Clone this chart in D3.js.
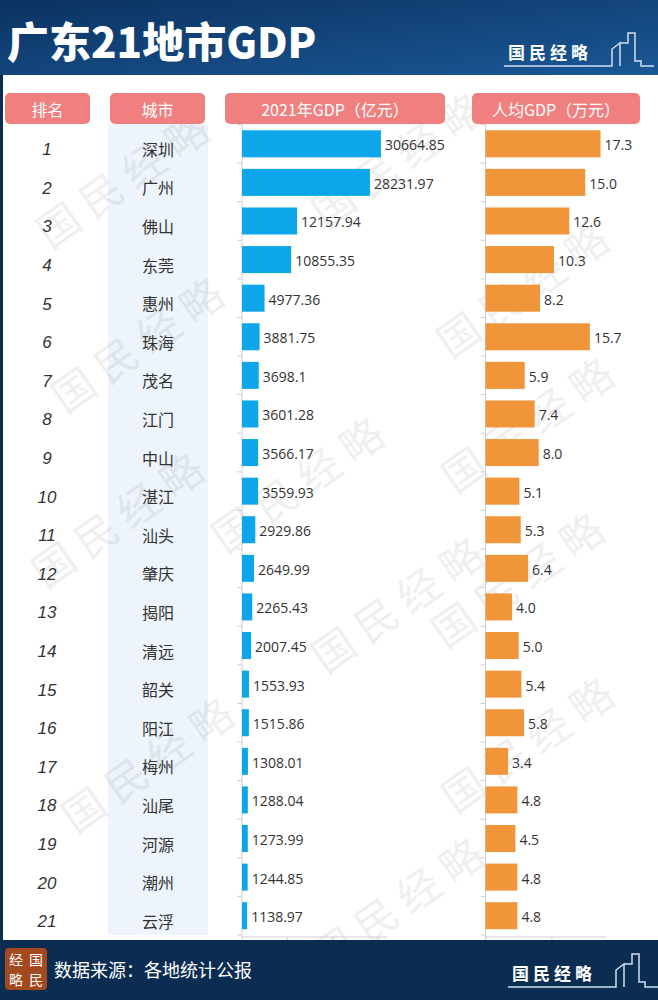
<!DOCTYPE html>
<html><head><meta charset="utf-8">
<script src="https://cdn.jsdelivr.net/npm/d3@7"></script>
<style>body{margin:0;background:#fff}svg{display:block}</style>
</head><body>
<svg id="c" width="658" height="1000"></svg>
<script>
const ranks = d3.range(1, 22);
const cities = ["深圳","广州","佛山","东莞","惠州","珠海","茂名","江门","中山","湛江","汕头","肇庆","揭阳","清远","韶关","阳江","梅州","汕尾","河源","潮州","云浮"];
const gdpLabels = ["30664.85","28231.97","12157.94","10855.35","4977.36","3881.75","3698.1","3601.28","3566.17","3559.93","2929.86","2649.99","2265.43","2007.45","1553.93","1515.86","1308.01","1288.04","1273.99","1244.85","1138.97"];
const gdp = gdpLabels.map(Number);
const perCapita = [17.3,15.0,12.6,10.3,8.2,15.7,5.9,7.4,8.0,5.1,5.3,6.4,4.0,5.0,5.4,5.8,3.4,4.8,4.5,4.8,4.8];
const headers = ["排名","城市","2021年GDP（亿元）","人均GDP（万元）"];
const gdpTicks = [0,10000,20000,30000];
const pcTicks = [0,10];

const svg = d3.select("#c");
const defs = svg.append("defs");
const g1 = defs.append("linearGradient").attr("id","hg").attr("x1","0").attr("y1","0").attr("x2","1").attr("y2","1");
g1.append("stop").attr("offset","0").attr("stop-color","#0b3261");
g1.append("stop").attr("offset","1").attr("stop-color","#1a5896");

// header
svg.append("rect").attr("x",0).attr("y",0).attr("width",658).attr("height",75).attr("fill","url(#hg)");
svg.append("text").attr("x",7).attr("y",58).text("广东21地市GDP")
  .attr("fill","#fff").attr("font-family","'Noto Sans CJK SC'").attr("font-weight","900").attr("font-size",42);

function logo(x, y) {
  const g = svg.append("g");
  g.append("text").attr("x",x).attr("y",y).text("国民经略").attr("fill","#fff")
    .attr("font-family","'Noto Sans CJK SC'").attr("font-weight","bold").attr("font-size",17).attr("letter-spacing",4);
  g.append("path").attr("d",`M${x-4},${y+7} H${x+104} V${y-10} L${x+112},${y-16} V${y+7} M${x+112},${y-16} H${x+120} V${y-26} H${x+127} V${y+2} H${x+133} V${y+7} H${x+146}`)
    .attr("fill","none").attr("stroke","#cfe0f0").attr("stroke-width",1.5);
}
logo(508, 59);

// body border
svg.append("rect").attr("x",0).attr("y",75).attr("width",3).attr("height",865).attr("fill","#0c2d52");

// layout scales
const y = d3.scaleBand().domain(cities).range([124.5, 935]).paddingInner(0.3).paddingOuter(0.15);
const xg = d3.scaleLinear().domain([0, 32000]).range([242, 387]);
const xp = d3.scaleLinear().domain([0, 18.2]).range([485.5, 606.5]);
const step = y.step();
const cy = c => y(c) + y.bandwidth()/2;

// city column background
svg.append("rect").attr("x",108).attr("y",124).attr("width",100).attr("height",811).attr("fill","#edf4fb");

// watermarks
const wm = [[125,175],[400,155],[525,285],[140,340],[120,515],[400,600],[530,420],[150,760],[530,740],[400,900],[300,480],[520,575]];
svg.append("g").selectAll("text").data(wm).join("text")
  .attr("transform",d=>`translate(${d[0]},${d[1]}) rotate(-35)`)
  .attr("text-anchor","middle").attr("dominant-baseline","central")
  .attr("font-family","'Noto Sans CJK SC'").attr("font-size",42).attr("letter-spacing",10)
  .attr("fill","#000").attr("opacity",0.06).text("国民经略");

// header boxes
const hb = [[5,85],[110,95],[225,220],[472,168]];
const hg = svg.append("g").selectAll("g").data(headers).join("g");
hg.append("rect").attr("x",(d,i)=>hb[i][0]).attr("y",93).attr("width",(d,i)=>hb[i][1]).attr("height",31).attr("rx",5).attr("fill","#f07f7f");
hg.append("text").attr("x",(d,i)=>hb[i][0]+hb[i][1]/2).attr("y",109).attr("text-anchor","middle").attr("dominant-baseline","central")
  .attr("fill","#fff").attr("font-family","'Noto Sans CJK SC'").attr("font-size",16).text(d=>d);

// rank & city
svg.append("g").selectAll("text").data(ranks).join("text")
  .attr("x",47).attr("y",(d,i)=>cy(cities[i])+6).attr("text-anchor","middle").attr("dominant-baseline","central")
  .attr("font-family","'Liberation Sans'").attr("font-style","italic").attr("font-size",17).attr("fill","#333").text(d=>d);
svg.append("g").selectAll("text").data(cities).join("text")
  .attr("x",158).attr("y",d=>cy(d)+5).attr("text-anchor","middle").attr("dominant-baseline","central")
  .attr("font-family","'Noto Sans CJK SC'").attr("font-size",16).attr("fill","#333").text(d=>d);

// axes
function axes(x, ticks) {
  const g = svg.append("g");
  g.append("line").attr("x1",x.range()[0]).attr("x2",x.range()[0]).attr("y1",124).attr("y2",937).attr("stroke","#d0d0d0");
  g.selectAll(".yt").data(d3.range(0,22)).join("line").attr("class","yt")
    .attr("x1",x.range()[0]-5).attr("x2",x.range()[0]).attr("y1",i=>124.5+i*step).attr("y2",i=>124.5+i*step).attr("stroke","#d0d0d0");
  g.append("line").attr("x1",x.range()[0]).attr("x2",x.range()[1]).attr("y1",937).attr("y2",937).attr("stroke","#d0d0d0");
  g.selectAll(".xt").data(ticks).join("line").attr("class","xt")
    .attr("x1",d=>x(d)).attr("x2",d=>x(d)).attr("y1",937).attr("y2",942).attr("stroke","#d0d0d0");
}
axes(xg, gdpTicks);
axes(xp, pcTicks);

// bars
svg.append("g").selectAll("rect").data(gdp).join("rect")
  .attr("x",xg(0)).attr("y",(d,i)=>y(cities[i])).attr("width",d=>xg(d)-xg(0)).attr("height",y.bandwidth()).attr("fill","#0ea6ea");
svg.append("g").selectAll("text").data(gdpLabels).join("text")
  .attr("x",(d,i)=>xg(gdp[i])+4).attr("y",(d,i)=>cy(cities[i])+1).attr("dominant-baseline","central")
  .attr("font-family","'Open Sans'").attr("font-size",14).attr("fill","#333").text(d=>d);
svg.append("g").selectAll("rect").data(perCapita).join("rect")
  .attr("x",xp(0)).attr("y",(d,i)=>y(cities[i])).attr("width",d=>xp(d)-xp(0)).attr("height",y.bandwidth()).attr("fill","#f0953a");
svg.append("g").selectAll("text").data(perCapita).join("text")
  .attr("x",d=>xp(d)+4).attr("y",(d,i)=>cy(cities[i])+1).attr("dominant-baseline","central")
  .attr("font-family","'Open Sans'").attr("font-size",14).attr("fill","#333").text(d=>d.toFixed(1));

// footer
svg.append("rect").attr("x",0).attr("y",940).attr("width",658).attr("height",60).attr("fill","#0c2d52");
svg.append("rect").attr("x",5).attr("y",948).attr("width",42).attr("height",42).attr("rx",4).attr("fill","#a4481d");
[["经",16,959],["国",36,959],["略",16,979],["民",36,979]].forEach(d=>{
  svg.append("text").attr("x",d[1]).attr("y",d[2]).attr("text-anchor","middle").attr("dominant-baseline","central")
    .attr("fill","#fff").attr("font-family","'Noto Sans CJK SC'").attr("font-size",14).text(d[0]);
});
svg.append("text").attr("x",54).attr("y",977).text("数据来源：各地统计公报").attr("fill","#fff")
  .attr("font-family","'Noto Sans CJK SC'").attr("font-size",18);
logo(512, 980);
</script>
</body></html>
